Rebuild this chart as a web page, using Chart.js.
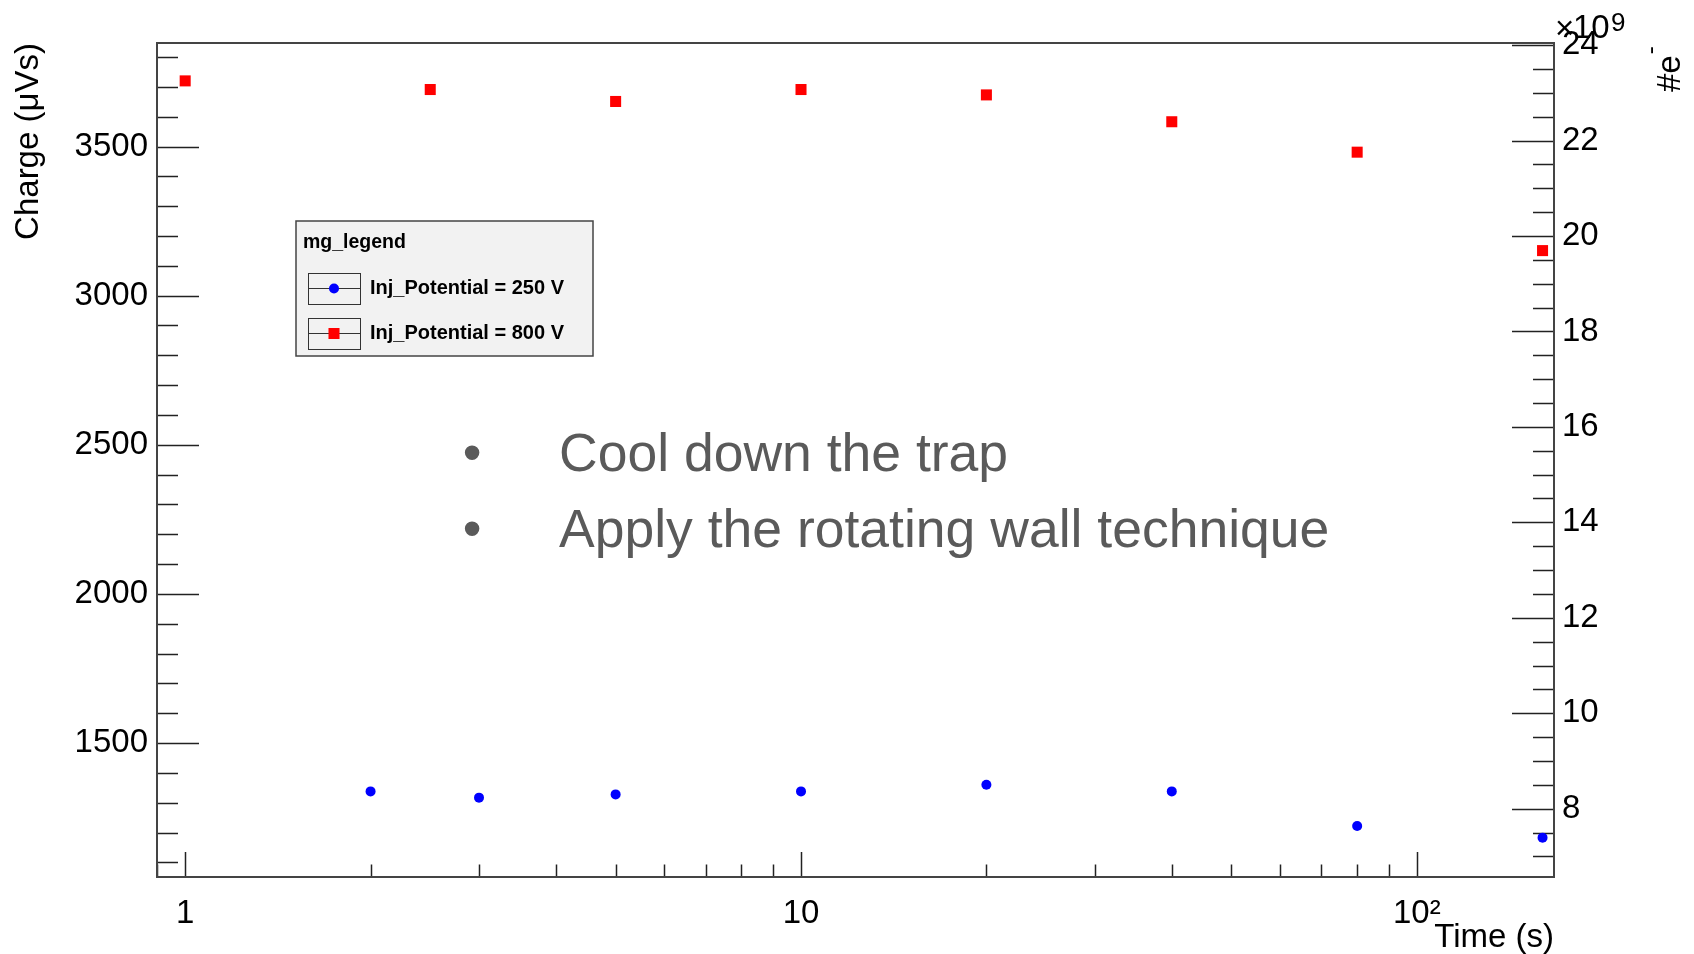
<!DOCTYPE html>
<html>
<head>
<meta charset="utf-8">
<title>Charge vs time</title>
<script src="https://cdn.jsdelivr.net/npm/chart.js@4.4.1/dist/chart.umd.min.js"></script>
<style>
  html, body { margin: 0; padding: 0; background: #fff; overflow: hidden; }
  canvas { display: block; }
</style>
</head>
<body>
<canvas id="chart" width="1694" height="954"></canvas>
<script>
// storage time (s) and measured charge (µVs)
const timeLow = [2, 3, 5, 10, 20, 40, 80, 160];
const chargeLow = [1338, 1317, 1328, 1338, 1360, 1338, 1222, 1183];
const timeHigh = [1, 2.5, 5, 10, 20, 40, 80, 160];
const chargeHigh = [3720, 3691, 3651, 3691, 3673, 3583, 3481, 3151];

const seriesNames = ["Inj_Potential = 250 V", "Inj_Potential = 800 V"];
const legendTitle = "mg_legend";
const notes = ["Cool down the trap", "Apply the rotating wall technique"];

const xTicks = [1, 10, 100];
const xTickLabels = ["1", "10", "10²"];
const chargeTicks = [1500, 2000, 2500, 3000, 3500];
const electronTicks = [8, 10, 12, 14, 16, 18, 20, 22, 24];

const timeMin = 0.9, timeMax = 167;
const chargeMin = 1051, chargeMax = 3847;
// right axis: number of electrons in units of 1e9 (6.25e6 e- per µVs)
const electronsPerCharge = 0.00625;

const FONT = "'Liberation Sans', Arial, Helvetica, sans-serif";
Chart.defaults.font.family = FONT;
Chart.defaults.color = "#000";

function toPoints(xs, ys) {
  return xs.map((x, i) => ({ x: x, y: ys[i] }));
}

function marker(ctx, style, r, x, y) {
  if (Chart.helpers && Chart.helpers.drawPoint) {
    Chart.helpers.drawPoint(ctx, { pointStyle: style, radius: r, rotation: 0, borderWidth: 0 }, x, y);
    return;
  }
  ctx.beginPath();
  if (style === "rect") {
    const s = r * Math.SQRT1_2;
    ctx.rect(x - s, y - s, 2 * s, 2 * s);
  } else {
    ctx.arc(x, y, r, 0, Math.PI * 2);
  }
  ctx.fill();
}

// ROOT style frame with ticks pointing inwards
const rootFrame = {
  id: "rootFrame",
  beforeDatasetsDraw(chart) {
    const { ctx, chartArea: a, scales } = chart;
    ctx.save();
    ctx.strokeStyle = "#222";
    ctx.lineWidth = 1.5;
    ctx.beginPath();
    for (let v = Math.ceil(scales.y.min / 100) * 100; v <= scales.y.max; v += 100) {
      const p = Math.round(scales.y.getPixelForValue(v)) + 0.5;
      const len = chargeTicks.includes(v) ? 42 : 21;
      ctx.moveTo(a.left, p);
      ctx.lineTo(a.left + len, p);
    }
    for (let v = Math.ceil(scales.y2.min * 2) / 2; v <= scales.y2.max; v += 0.5) {
      const p = Math.round(scales.y2.getPixelForValue(v)) + 0.5;
      const len = electronTicks.includes(v) ? 42 : 21;
      ctx.moveTo(a.right, p);
      ctx.lineTo(a.right - len, p);
    }
    for (const d of [0.1, 1, 10, 100]) {
      for (let k = 1; k <= 9; k++) {
        const v = k * d;
        if (v < scales.x.min || v > scales.x.max) continue;
        const p = Math.round(scales.x.getPixelForValue(v)) + 0.5;
        const len = k === 1 ? 25 : 12.5;
        ctx.moveTo(p, a.bottom);
        ctx.lineTo(p, a.bottom - len);
      }
    }
    ctx.stroke();
    ctx.strokeStyle = "#444";
    ctx.lineWidth = 2;
    ctx.strokeRect(a.left, a.top, a.right - a.left, a.bottom - a.top);
    ctx.restore();
  },
  afterDraw(chart) {
    const { ctx, chartArea: a } = chart;
    ctx.save();

    // legend box
    ctx.fillStyle = "#f2f2f2";
    ctx.fillRect(296, 221, 297, 135);
    ctx.strokeStyle = "#444";
    ctx.lineWidth = 1.5;
    ctx.strokeRect(296, 221, 297, 135);
    ctx.fillStyle = "#000";
    ctx.textBaseline = "alphabetic";
    ctx.textAlign = "left";
    ctx.font = "bold 19.5px " + FONT;
    ctx.fillText(legendTitle, 303, 248);
    ctx.font = "bold 20px " + FONT;
    chart.data.datasets.forEach((ds, i) => {
      const top = 273 + i * 45;
      ctx.strokeStyle = "#333";
      ctx.lineWidth = 1;
      ctx.strokeRect(308.5, top + 0.5, 52, 31);
      ctx.beginPath();
      ctx.moveTo(308.5, top + 15.5);
      ctx.lineTo(360.5, top + 15.5);
      ctx.stroke();
      ctx.fillStyle = ds.backgroundColor;
      marker(ctx, ds.pointStyle, ds.pointRadius, 334, top + 15.5);
      ctx.fillStyle = "#000";
      ctx.fillText(ds.label, 370, top + 21);
    });

    // slide notes
    ctx.fillStyle = "#5a5a5a";
    ctx.font = "53.5px " + FONT;
    notes.forEach((t, i) => {
      const base = 471 + i * 76;
      ctx.textAlign = "center";
      ctx.fillText("•", 472, base);
      ctx.textAlign = "left";
      ctx.fillText(t, 559, base);
    });

    // right axis exponent
    ctx.fillStyle = "#000";
    ctx.font = "33px " + FONT;
    ctx.fillText("×", a.right + 1, 39);
    ctx.fillText("10", a.right + 19, 38);
    ctx.font = "26px " + FONT;
    ctx.fillText("9", a.right + 57, 31);

    // right axis title, rotated like ROOT does
    ctx.translate(1680, 92);
    ctx.rotate(-Math.PI / 2);
    ctx.font = "33px " + FONT;
    ctx.fillText("#e", 0, 0);
    const w = ctx.measureText("#e").width;
    ctx.font = "24px " + FONT;
    ctx.fillText("-", w + 1, -22);
    ctx.restore();
  }
};

new Chart(document.getElementById("chart"), {
  type: "scatter",
  data: {
    datasets: [
      {
        label: seriesNames[0],
        data: toPoints(timeLow, chargeLow),
        backgroundColor: "#0000ff",
        borderColor: "#0000ff",
        pointStyle: "circle",
        pointRadius: 5,
        pointBorderWidth: 0,
        yAxisID: "y"
      },
      {
        label: seriesNames[1],
        data: toPoints(timeHigh, chargeHigh),
        backgroundColor: "#ff0000",
        borderColor: "#ff0000",
        pointStyle: "rect",
        pointRadius: 7.8,
        pointBorderWidth: 0,
        yAxisID: "y"
      }
    ]
  },
  options: {
    responsive: false,
    animation: false,
    devicePixelRatio: 1,
    layout: { padding: { top: 43, left: 0, right: 0, bottom: 0 } },
    plugins: {
      legend: { display: false },
      tooltip: { enabled: false }
    },
    scales: {
      x: {
        type: "logarithmic",
        position: "bottom",
        min: timeMin,
        max: timeMax,
        grid: { display: false, drawTicks: false },
        border: { display: false },
        afterBuildTicks: (s) => { s.ticks = xTicks.map(v => ({ value: v, major: true })); },
        afterFit: (s) => { s.height = 77; },
        ticks: {
          padding: 17,
          autoSkip: false,
          maxRotation: 0,
          font: { size: 33 },
          callback: (v, i) => xTickLabels[i]
        },
        title: {
          display: true,
          text: "Time (s)",
          align: "end",
          font: { size: 33 },
          padding: { top: 0, bottom: -4 }
        }
      },
      y: {
        position: "left",
        min: chargeMin,
        max: chargeMax,
        grid: { display: false, drawTicks: false },
        border: { display: false },
        afterBuildTicks: (s) => { s.ticks = chargeTicks.map(v => ({ value: v })); },
        afterFit: (s) => { s.width = 157; },
        ticks: { padding: 9, font: { size: 33 }, callback: (v) => String(v) },
        title: {
          display: true,
          text: "Charge (μVs)",
          align: "end",
          font: { size: 33 },
          padding: { top: 9, bottom: 0 }
        }
      },
      y2: {
        position: "right",
        min: chargeMin * electronsPerCharge,
        max: chargeMax * electronsPerCharge,
        grid: { display: false, drawTicks: false },
        border: { display: false },
        afterBuildTicks: (s) => { s.ticks = electronTicks.map(v => ({ value: v })); },
        afterFit: (s) => { s.width = 140; },
        ticks: { padding: 8, font: { size: 33 }, callback: (v) => String(v) }
      }
    }
  },
  plugins: [rootFrame]
});
</script>
</body>
</html>
